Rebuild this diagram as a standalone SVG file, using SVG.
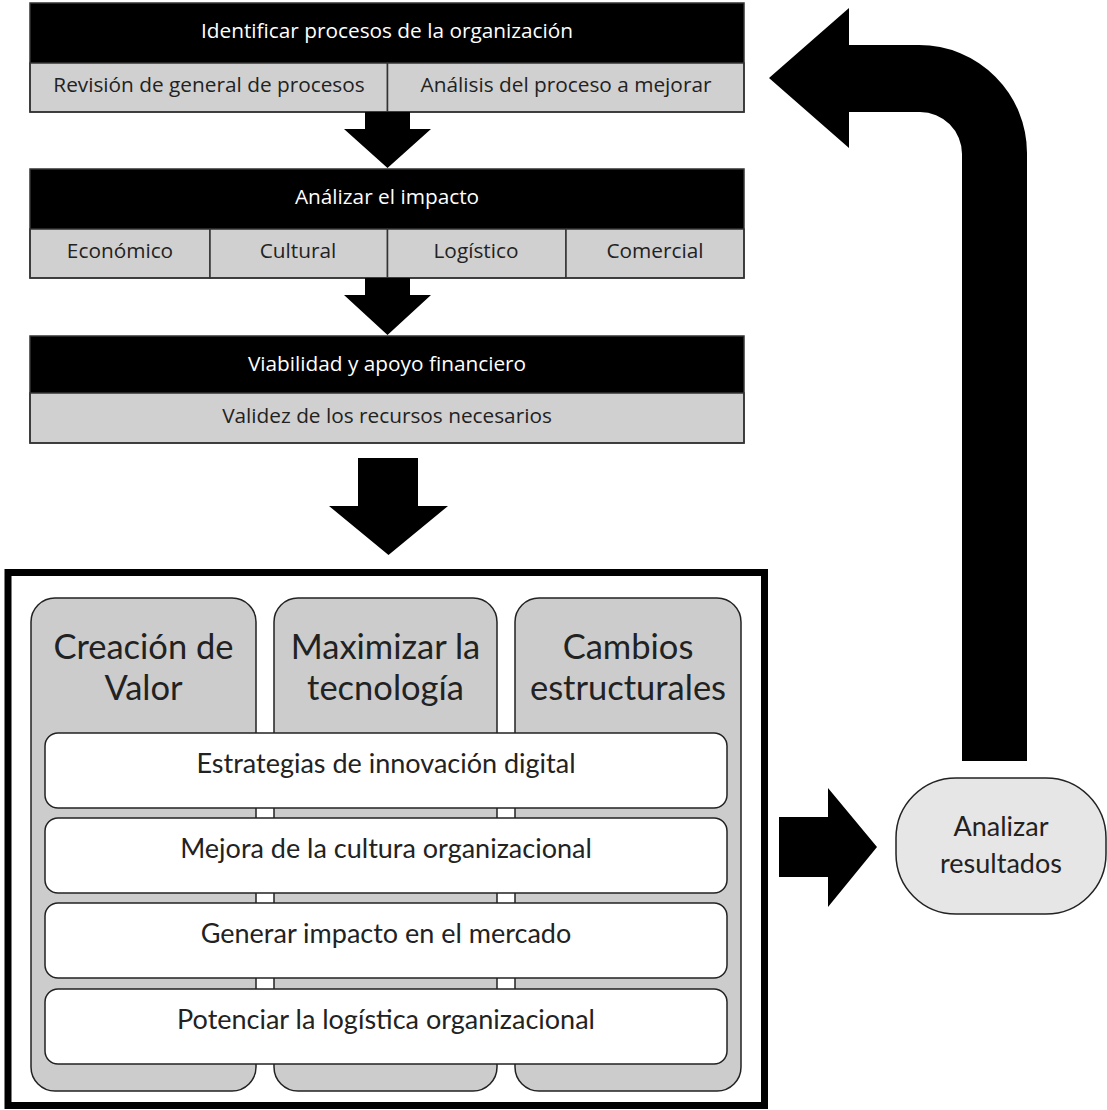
<svg xmlns="http://www.w3.org/2000/svg" width="1107" height="1110" viewBox="0 0 1107 1110">
<style>
.hdr{fill:#000}
.cell{fill:#d0d0d0;stroke:#333;stroke-width:1.5}
.frame{fill:none;stroke:#333;stroke-width:1.5}
.ht{font-family:"Open Sans",sans-serif;font-size:20.8px;fill:#fff;text-anchor:middle}
.ct{font-family:"Open Sans",sans-serif;font-size:20.8px;fill:#222;text-anchor:middle}
.col{fill:#cccccc;stroke:#222;stroke-width:1.5}
.colt{font-family:Lato,"Liberation Sans",sans-serif;font-size:34.5px;fill:#222;text-anchor:middle}
.row{fill:#fff;stroke:#222;stroke-width:1.5}
.rowt{font-family:Lato,"Liberation Sans",sans-serif;font-size:27px;fill:#222;text-anchor:middle}
.nt{font-family:Lato,"Liberation Sans",sans-serif;font-size:27px;fill:#222;text-anchor:middle}
.arr{fill:#000}
</style>
<rect width="1107" height="1110" fill="#fff"/>

<g id="box-identificar">
<rect class="hdr" x="30" y="3" width="714" height="60"/>
<rect class="cell" x="30" y="63" width="357.5" height="49"/>
<rect class="cell" x="387.5" y="63" width="356.5" height="49"/>
<rect class="frame" x="30" y="3" width="714" height="109"/>
<text class="ht" x="387" y="38">Identificar procesos de la organización</text>
<text class="ct" x="209" y="92">Revisión de general de procesos</text>
<text class="ct" x="566" y="92">Análisis del proceso a mejorar</text>
</g>

<g id="box-impacto">
<rect class="hdr" x="30" y="169" width="714" height="60"/>
<rect class="cell" x="30" y="229" width="180" height="49"/>
<rect class="cell" x="210" y="229" width="177.5" height="49"/>
<rect class="cell" x="387.5" y="229" width="178.5" height="49"/>
<rect class="cell" x="566" y="229" width="178" height="49"/>
<rect class="frame" x="30" y="169" width="714" height="109"/>
<text class="ht" x="387" y="204">Análizar el impacto</text>
<text class="ct" x="120" y="258">Económico</text>
<text class="ct" x="298" y="258">Cultural</text>
<text class="ct" x="476" y="258">Logístico</text>
<text class="ct" x="655" y="258">Comercial</text>
</g>

<g id="box-viabilidad">
<rect class="hdr" x="30" y="336" width="714" height="57"/>
<rect class="cell" x="30" y="393" width="714" height="50"/>
<rect class="frame" x="30" y="336" width="714" height="107"/>
<text class="ht" x="387" y="371">Viabilidad y apoyo financiero</text>
<text class="ct" x="387" y="423">Validez de los recursos necesarios</text>
</g>

<g id="box-estrategias">
<rect x="8" y="572.5" width="756.5" height="533" fill="#fff" stroke="#000" stroke-width="7"/>
<rect class="col" x="31" y="598" width="225" height="493" rx="24"/>
<rect class="col" x="274" y="598" width="223" height="493" rx="24"/>
<rect class="col" x="515" y="598" width="226" height="493" rx="24"/>
<text class="colt" x="143.5" y="659">Creación de</text>
<text class="colt" x="143.5" y="700">Valor</text>
<text class="colt" x="385.5" y="659">Maximizar la</text>
<text class="colt" x="385.5" y="700">tecnología</text>
<text class="colt" x="628" y="659">Cambios</text>
<text class="colt" x="628" y="700">estructurales</text>
<rect x="257" y="800" width="16" height="200" fill="#fff"/>
<rect x="498" y="800" width="16" height="200" fill="#fff"/>
<rect class="row" x="45" y="733" width="682" height="75" rx="13"/>
<rect class="row" x="45" y="818" width="682" height="75" rx="13"/>
<rect class="row" x="45" y="903" width="682" height="75" rx="13"/>
<rect class="row" x="45" y="989" width="682" height="75" rx="13"/>
<text class="rowt" x="386" y="773">Estrategias de innovación digital</text>
<text class="rowt" x="386" y="858">Mejora de la cultura organizacional</text>
<text class="rowt" x="386" y="943">Generar impacto en el mercado</text>
<text class="rowt" x="386" y="1029">Potenciar la logística organizacional</text>
</g>

<g id="node-analizar">
<rect x="896" y="778" width="210" height="136" rx="60" fill="#e6e6e6" stroke="#222" stroke-width="1.5"/>
<text class="nt" x="1001" y="836">Analizar</text>
<text class="nt" x="1001" y="873">resultados</text>
</g>

<g id="connectors">
<polygon class="arr" points="365,112 410,112 410,129 431,129 387.5,168 344,129 365,129"/>
<polygon class="arr" points="365,278 410,278 410,295 431,295 387.5,335 344,295 365,295"/>
<polygon class="arr" points="358,458 418,458 418,506 448,506 388.5,555 329,506 358,506"/>
<polygon class="arr" points="779,817 828,817 828,788 877,847 828,907 828,877 779,877"/>
<path class="arr" d="M1027,761 L1027,153 A108,108 0 0 0 919,45 L849,45 L849,8 L769,78 L849,148 L849,112 L920,112 A42,42 0 0 1 962,154 L962,761 Z"/>
</g>
</svg>
